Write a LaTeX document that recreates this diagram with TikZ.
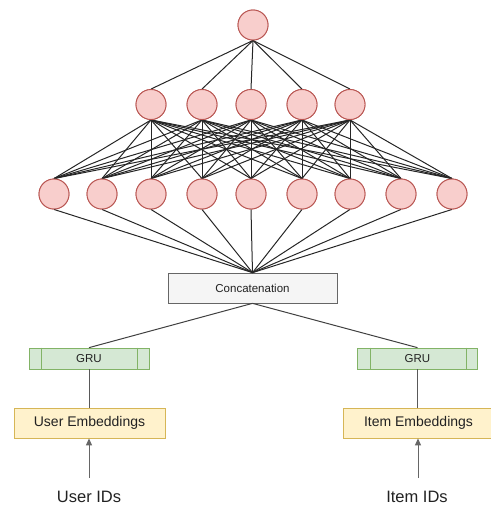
\documentclass[tikz,border=0pt]{standalone}
\usepackage{fontspec}
\setmainfont{Liberation Sans}
\usetikzlibrary{arrows.meta}
\definecolor{nfill}{HTML}{F8CECC}
\definecolor{nline}{HTML}{B85450}
\definecolor{cfill}{HTML}{F5F5F5}
\definecolor{cline}{HTML}{666666}
\definecolor{gfill}{HTML}{D5E8D4}
\definecolor{gline}{HTML}{82B366}
\definecolor{yfill}{HTML}{FFF2CC}
\definecolor{yline}{HTML}{D6B656}
\definecolor{txt}{HTML}{222222}
\tikzset{
  neuron/.style={circle, draw=nline, fill=nfill, line width=0.9pt, minimum size=30pt, inner sep=0pt},
  edge/.style={draw=black!85, line width=1pt},
  concat/.style={draw=cline, fill=cfill, line width=0.7pt, minimum width=169pt, minimum height=30pt, inner sep=0pt, text=txt, font=\fontsize{11.5}{13}\selectfont},
  grubox/.style={draw=gline, fill=gfill, line width=0.7pt, minimum width=120pt, minimum height=21pt, inner sep=0pt, text=txt, font=\fontsize{11.5}{13}\selectfont},
  embbox/.style={draw=yline, fill=yfill, line width=0.8pt, minimum width=151pt, minimum height=30pt, inner sep=0pt, text=txt, font=\fontsize{14}{16}\selectfont},
  idtext/.style={font=\fontsize{16.5}{18}\selectfont, inner sep=0pt, text=txt},
  link/.style={draw=black!75, line width=1pt},
  arr/.style={draw=black!60, line width=1pt, -{Triangle[length=7pt,width=6pt]}}
}
\begin{document}
\begin{tikzpicture}[x=1pt,y=-1pt]
\useasboundingbox (0,0) rectangle (490,506);
% nodes
\node[neuron] (t) at (253,25) {};
\foreach \i/\x in {1/151,2/202,3/251,4/302,5/350} {
  \node[neuron] (m\i) at (\x,104.5) {};
}
\foreach \i/\x in {1/54,2/102,3/151,4/202,5/251,6/302,7/350,8/401,9/452} {
  \node[neuron] (b\i) at (\x,194) {};
}
\node[concat] (c) at (252.5,288) {Concatenation};
\node[grubox] (g1) at (89,358.5) {GRU};
\node[grubox] (g2) at (417.5,358.5) {GRU};
\draw[gline, line width=0.7pt] ([xshift=13pt]g1.north west) -- ([xshift=13pt]g1.south west);
\draw[gline, line width=0.7pt] ([xshift=-12pt]g1.north east) -- ([xshift=-12pt]g1.south east);
\draw[gline, line width=0.7pt] ([xshift=13pt]g2.north west) -- ([xshift=13pt]g2.south west);
\draw[gline, line width=0.7pt] ([xshift=-12pt]g2.north east) -- ([xshift=-12pt]g2.south east);
\node[embbox] (e1) at (89.5,423) {User Embeddings};
\node[embbox] (e2) at (418.5,423) {Item Embeddings};
\node[idtext] (u) at (89,497) {User IDs};
\node[idtext] (it) at (417,497) {Item IDs};
\coordinate (ua) at (89,478);
\coordinate (ia) at (418,478);
% edges
\foreach \i in {1,...,5} { \draw[edge] (t.south) -- (m\i.north); }
\foreach \i in {1,...,5} { \foreach \j in {1,...,9} { \draw[edge] (m\i.south) -- (b\j.north); } }
\foreach \j in {1,...,9} { \draw[edge] (b\j.south) -- (c.north); }
\draw[link] (c.south) -- (g1.north);
\draw[link] (c.south) -- (g2.north);
\draw[link, draw=black!65] (g1.south) -- (e1.north -| g1.south);
\draw[link, draw=black!65] (g2.south) -- (e2.north -| g2.south);
\draw[arr] (ua) -- (e1.south -| ua);
\draw[arr] (ia) -- (e2.south -| ia);
% redraw neurons on top
\foreach \n in {t,m1,m2,m3,m4,m5,b1,b2,b3,b4,b5,b6,b7,b8,b9} {
  \draw[nline, fill=nfill, line width=0.9pt] (\n) circle (15pt);
}
\end{tikzpicture}
\end{document}
